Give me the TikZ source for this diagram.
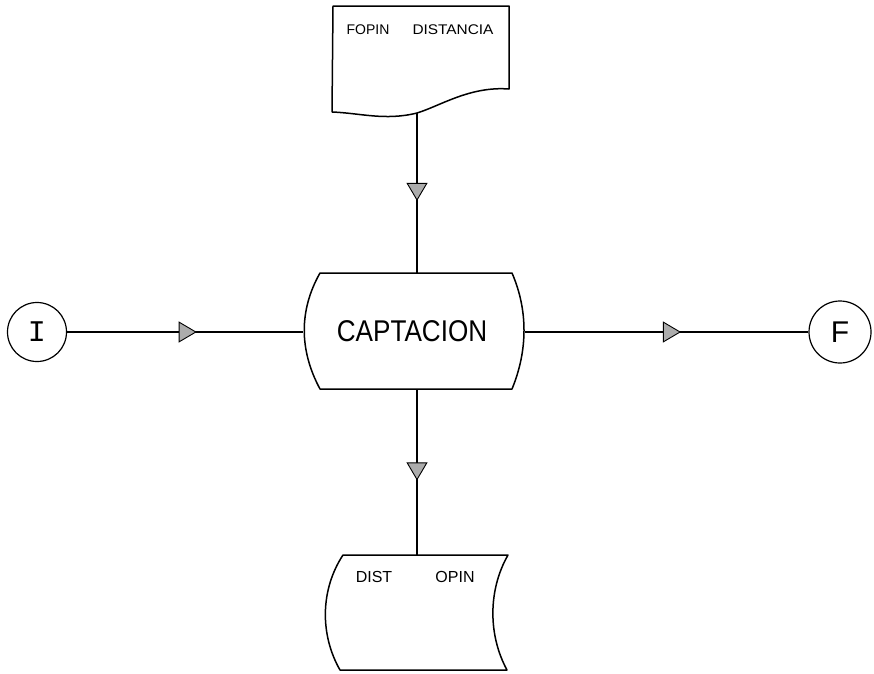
\documentclass[tikz,border=0pt]{standalone}
\usepackage{fontspec}
\setmainfont{Liberation Sans}
\newfontfamily\monof{Liberation Mono}
\usepackage{graphicx}
\usetikzlibrary{arrows.meta,decorations.markings}
\tikzset{
  shapeline/.style={line width=1.5pt, line join=round, draw=black},
  conn/.style={line width=1.5pt, draw=black,
    postaction={decorate},
    decoration={markings, mark=at position 0.55 with {\arrow{Triangle[width=21pt,length=18pt,fill=gray!65,line width=0.9pt]}}}},
  termc/.style={circle, draw=black, line width=1.2pt, inner sep=0pt},
  txt/.style={inner sep=0pt, anchor=base},
}
\begin{document}
\begin{tikzpicture}[x=1pt,y=-1pt]
\useasboundingbox (0,0) rectangle (874,673);
\fill[white] (0,0) rectangle (874,673);

% top document
\node[minimum width=176pt, minimum height=108pt, inner sep=0pt] (fopin) at (421,60) {};
\draw[shapeline] (332,112) -- (333,6) -- (509,6) -- (509,89)
  .. controls (470,86) and (440,106) .. (417,113)
  .. controls (385,121) and (360,113) .. (332,112);
\coordinate (fopinout) at (417,113);
\node[txt, font=\fontsize{14}{14}\selectfont] (t1) at (368,34) {FOPIN};
\node[txt, font=\fontsize{14}{14}\selectfont] (t2) at (453,34) {\scalebox{1.1}[1]{DISTANCIA}};

% center process
\node[minimum width=222pt, minimum height=116pt, inner sep=0pt] (cap) at (414,331) {};
\draw[shapeline] (320,273) -- (512,273)
  .. controls (528,310) and (528,350) .. (512,389)
  -- (320,389)
  .. controls (299,350) and (299,310) .. (320,273) -- cycle;
\node[txt, font=\fontsize{30}{30}\selectfont] (captxt) at (412,341) {\scalebox{0.87}[1]{CAPTACION}};

% bottom stored data
\node[minimum width=180pt, minimum height=115pt, inner sep=0pt] (dist) at (418,612) {};
\draw[shapeline] (343,555) -- (508,555)
  .. controls (488,590) and (488,635) .. (507,670)
  -- (340,670)
  .. controls (320,635) and (320,590) .. (343,555) -- cycle;
\coordinate (distin) at (417,555);
\node[txt, font=\fontsize{16}{16}\selectfont] (t3) at (374,582) {DIST};
\node[txt, font=\fontsize{16}{16}\selectfont] (t4) at (455,582) {OPIN};

% terminals
\node[termc, minimum size=59pt, font=\monof\fontsize{30}{30}\selectfont] (ini) at (37,332) {I};
\node[termc, minimum size=62pt, font=\fontsize{30}{30}\selectfont] (fin) at (840,332) {F};

% connectors
\draw[conn] (fopinout) -- (fopinout |- cap.north);
\draw[conn] (ini) -- (cap.west |- ini);
\draw[conn] (cap.east |- fin) -- (fin);
\draw[conn] (distin |- cap.south) -- (distin);
\end{tikzpicture}
\end{document}
